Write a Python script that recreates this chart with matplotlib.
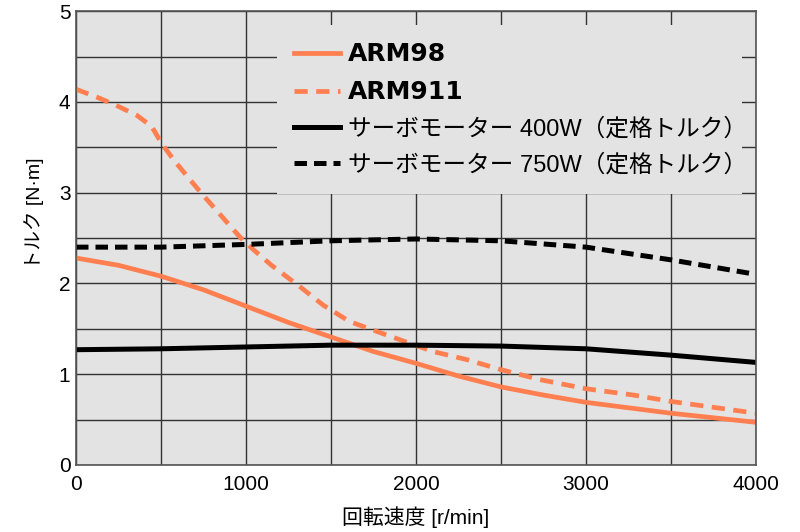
import matplotlib
matplotlib.use("Agg")
import matplotlib.pyplot as plt
from matplotlib.ticker import MultipleLocator

# 回転速度 [r/min] と トルク [N·m]
arm98_rpm = [0, 250, 500, 750, 1000, 1250, 1500, 1750, 2000, 2250, 2500, 2750, 3000, 3250, 3500, 3750, 4000]
arm98_torque = [2.28, 2.20, 2.08, 1.93, 1.75, 1.57, 1.41, 1.25, 1.12, 0.98, 0.86, 0.77, 0.69, 0.63, 0.57, 0.52, 0.47]

arm911_rpm = [0, 140, 250, 360, 445, 505, 575, 650, 730, 810, 885, 965, 1045, 1150, 1320, 1455, 1610, 1830, 1905, 2100, 2300, 2500, 2730, 3000, 3280, 3500, 3770, 4000]
arm911_torque = [4.14, 4.04, 3.95, 3.85, 3.73, 3.54, 3.36, 3.19, 3.01, 2.84, 2.68, 2.51, 2.37, 2.20, 1.96, 1.76, 1.58, 1.43, 1.38, 1.25, 1.16, 1.05, 0.94, 0.84, 0.77, 0.70, 0.63, 0.57]

servo400_rpm = [0, 500, 1000, 1500, 2000, 2500, 3000, 3500, 4000]
servo400_torque = [1.27, 1.28, 1.30, 1.32, 1.32, 1.31, 1.28, 1.21, 1.13]

servo750_rpm = [0, 500, 1000, 1500, 2000, 2500, 3000, 3500, 4000]
servo750_torque = [2.40, 2.40, 2.43, 2.47, 2.49, 2.47, 2.40, 2.26, 2.10]

labels = ["ARM98", "ARM911", "サーボモーター 400W（定格トルク）", "サーボモーター 750W（定格トルク）"]

orange = "#ff7f50"
bg = "#e3e3e3"
jp_font = ["Liberation Sans", "Noto Sans CJK JP", "DejaVu Sans"]
num_font = ["Liberation Sans", "DejaVu Sans"]

fig = plt.figure(figsize=(8, 5.32), dpi=100)
ax = fig.add_axes([0.095, 0.126, 0.85, 0.853])
ax.set_facecolor(bg)

ax.plot(arm98_rpm, arm98_torque, color=orange, lw=3.4, label=labels[0])
ax.plot(arm911_rpm, arm911_torque, color=orange, lw=3.4, dashes=(2.8, 1.8), label=labels[1])
ax.plot(servo400_rpm, servo400_torque, color="black", lw=3.6, label=labels[2])
ax.plot(servo750_rpm, servo750_torque, color="black", lw=3.6, dashes=(2.5, 1.4), label=labels[3])

ax.set_xlim(0, 4000)
ax.set_ylim(0, 5)
ax.xaxis.set_major_locator(MultipleLocator(1000))
ax.xaxis.set_minor_locator(MultipleLocator(500))
ax.yaxis.set_major_locator(MultipleLocator(1))
ax.yaxis.set_minor_locator(MultipleLocator(0.5))
ax.grid(which="both", color="#333333", lw=1.0)
ax.set_axisbelow(True)
ax.tick_params(which="both", length=0)
ax.tick_params(axis="x", pad=7)
ax.tick_params(axis="y", pad=4)
for lab in ax.get_xticklabels() + ax.get_yticklabels():
    lab.set_family(num_font)
    lab.set_fontsize(15)
for s in ax.spines.values():
    s.set_color("#555555")
    s.set_linewidth(1.2)

leg = ax.legend(loc="upper left", bbox_to_anchor=(0.296, 0.617, 0.683, 0.352), mode="expand",
                frameon=True, facecolor=bg, edgecolor="none", framealpha=1, fancybox=False,
                handlelength=1.95, handletextpad=0.33, labelspacing=0.58, borderpad=0.72,
                borderaxespad=0, prop={"family": jp_font, "size": 17})
for i, t in enumerate(leg.get_texts()):
    if i < 2:
        t.set_family("DejaVu Sans")
        t.set_fontweight("bold")
        t.set_fontsize(18)

fig.text(0.52, 0.028, "回転速度 [r/min]", family=jp_font, fontsize=15, ha="center", va="center")
fig.text(0.042, 0.60, "トルク [N·m]", family=jp_font, fontsize=14, ha="center", va="center", rotation=90)

fig.savefig("out.png", dpi=100)
